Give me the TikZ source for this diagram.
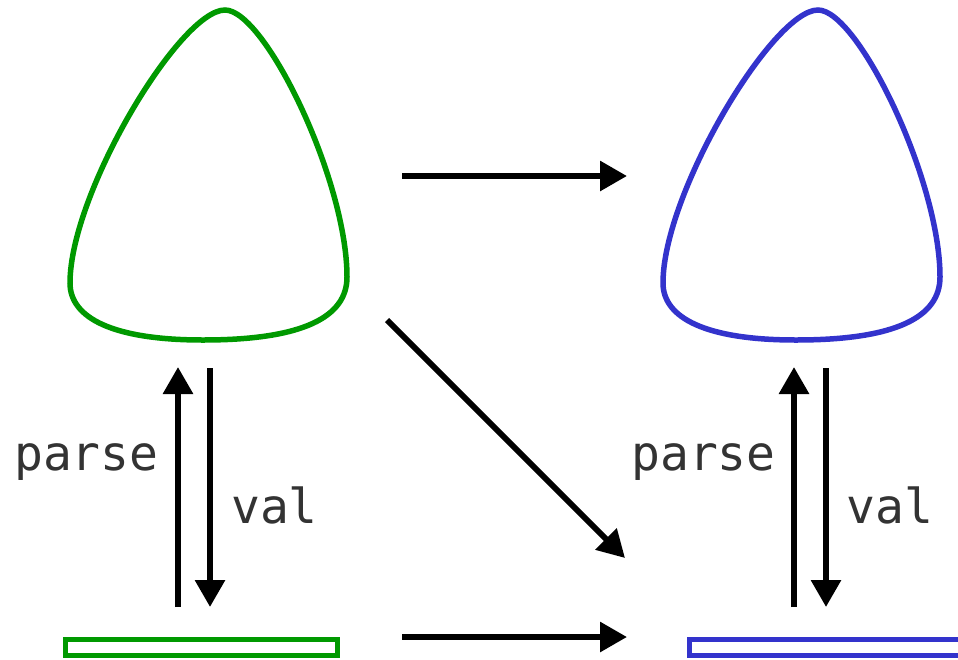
\documentclass[tikz,border=0pt]{standalone}
\usepackage{fontspec}
\setmonofont{DejaVu Sans Mono}
\usetikzlibrary{arrows.meta}
\definecolor{termgreen}{HTML}{009900}
\definecolor{termblue}{HTML}{3333CC}
\definecolor{labelgray}{HTML}{333333}
\tikzset{
  blob/.style={line width=5.5pt},
  strip/.style={line width=5.5pt},
  mapsto/.style={line width=6pt, -{Triangle[length=27pt,width=29pt]}},
  fname/.style={font=\ttfamily\fontsize{48}{48}\selectfont, text=labelgray,
                inner sep=0pt, anchor=base west},
}
\begin{document}
\begin{tikzpicture}[x=1pt,y=-1pt]
  \useasboundingbox (0,0) rectangle (958,659);
  \clip (0,0) rectangle (958,659);

  % rounded-triangle outline, drawn relative to its top point
  \def\blobpath{(0,0) .. controls (40,0) and (122,170) .. (122,267)
     .. controls (122,307) and (78,330) .. (-22,330)
     .. controls (-112,330) and (-155,308) .. (-155,273)
     .. controls (-155,183) and (-45,0) .. (0,0) -- cycle}

  \begin{scope}[shift={(225,10)}]
    \draw[termgreen, blob] \blobpath;
  \end{scope}
  \begin{scope}[shift={(818,10)}]
    \draw[termblue, blob] \blobpath;
  \end{scope}

  % flat strips at the bottom
  \draw[termgreen, strip] (65.5,639.5) rectangle (337.5,655.5);
  \draw[termblue, strip] (689.5,639.5) rectangle (964,655.5);

  % arrow end points
  \coordinate (tr0) at (402,176);  \coordinate (tr1) at (627,176);
  \coordinate (br0) at (402,637);  \coordinate (br1) at (627,637);
  \coordinate (dg0) at (387,320);  \coordinate (dg1) at (625,558);
  \coordinate (lp0) at (178,607);  \coordinate (lp1) at (178,367);
  \coordinate (lv0) at (210,368);  \coordinate (lv1) at (210,607);
  \coordinate (rp0) at (794,607);  \coordinate (rp1) at (794,367);
  \coordinate (rv0) at (826,368);  \coordinate (rv1) at (826,607);

  \draw[mapsto] (tr0) -- (tr1);
  \draw[mapsto] (br0) -- (br1);
  \draw[mapsto] (dg0) -- (dg1);
  \draw[mapsto] (lp0) -- (lp1);
  \draw[mapsto] (lv0) -- (lv1);
  \draw[mapsto] (rp0) -- (rp1);
  \draw[mapsto] (rv0) -- (rv1);

  % labels
  \node[fname] (lparse) at (14,470) {parse};
  \node[fname] (lval)   at (231,523) {val};
  \node[fname] (rparse) at (631,470) {parse};
  \node[fname] (rval)   at (846,523) {val};
\end{tikzpicture}
\end{document}
